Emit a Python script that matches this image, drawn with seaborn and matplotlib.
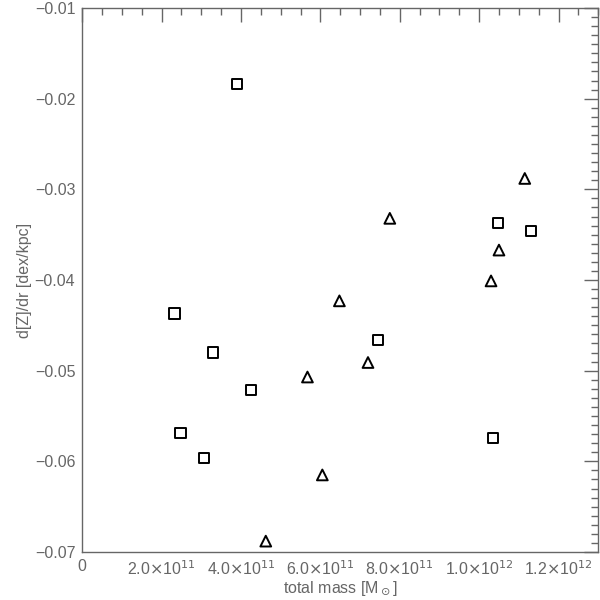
import numpy as np
import pandas as pd
import matplotlib
matplotlib.use("Agg")
import matplotlib.pyplot as plt
import seaborn as sns
from matplotlib.ticker import FuncFormatter, MultipleLocator

sq_mass = [3.90e11, 1.0475e12, 1.13e12, 2.325e11, 3.30e11, 7.45e11, 4.25e11, 2.475e11, 3.075e11, 1.035e12]
sq_grad = [-0.0184, -0.0337, -0.0346, -0.0437, -0.0480, -0.0466, -0.0521, -0.0569, -0.0596, -0.0574]
tri_mass = [1.115e12, 7.75e11, 1.05e12, 1.03e12, 6.48e11, 7.20e11, 5.675e11, 6.05e11, 4.625e11]
tri_grad = [-0.0288, -0.0332, -0.0367, -0.0401, -0.0423, -0.0491, -0.0507, -0.0615, -0.0688]

df_sq = pd.DataFrame({"mass": sq_mass, "grad": sq_grad})
df_tri = pd.DataFrame({"mass": tri_mass, "grad": tri_grad})

sns.set_theme(style="white")
plt.rcParams['font.family'] = ['Liberation Sans', 'DejaVu Sans']
grey = "#666666"

fig = plt.figure(figsize=(6, 6), dpi=100)
ax = fig.add_axes([0.137, 0.08, 0.86, 0.9067])

sns.scatterplot(data=df_sq, x="mass", y="grad", marker="s", s=55,
                facecolors="none", edgecolor="black", linewidth=1.4, ax=ax)
sns.scatterplot(data=df_tri, x="mass", y="grad", marker="^", s=60,
                facecolors="none", edgecolor="black", linewidth=1.4, ax=ax)

ax.set_xlim(0, 1.3e12)
ax.set_ylim(-0.07, -0.01)

def xfmt(v, p):
    if abs(v) < 1:
        return "0"
    e = int(np.floor(np.log10(abs(v))))
    return r"%.1f$\times$10$^{%d}$" % (v / 10**e, e)

ax.xaxis.set_major_locator(MultipleLocator(2e11))
ax.xaxis.set_minor_locator(MultipleLocator(0.5e11))
ax.yaxis.set_major_locator(MultipleLocator(0.01))
ax.yaxis.set_minor_locator(MultipleLocator(0.001))
ax.xaxis.set_major_formatter(FuncFormatter(xfmt))
ax.yaxis.set_major_formatter(FuncFormatter(lambda v, p: ("%.2f" % v).replace("-", "\u2212")))

ax.tick_params(which="both", direction="in", top=True, right=True, color=grey,
               labelcolor=grey, labelsize=11.5, width=1)
ax.tick_params(which="major", length=10, pad=5)
ax.tick_params(which="minor", length=5)
ax.tick_params(axis="x", labeltop=False)
ax.tick_params(axis="y", labelright=False)

for sp in ax.spines.values():
    sp.set_color(grey)
    sp.set_linewidth(1)

ax.set_xlabel(r"total mass [M$_\odot$]", color=grey, fontsize=11.5, labelpad=1)
ax.set_ylabel("d[Z]/dr [dex/kpc]", color=grey, fontsize=11.5, labelpad=2)

fig.savefig("out.png", dpi=100)
